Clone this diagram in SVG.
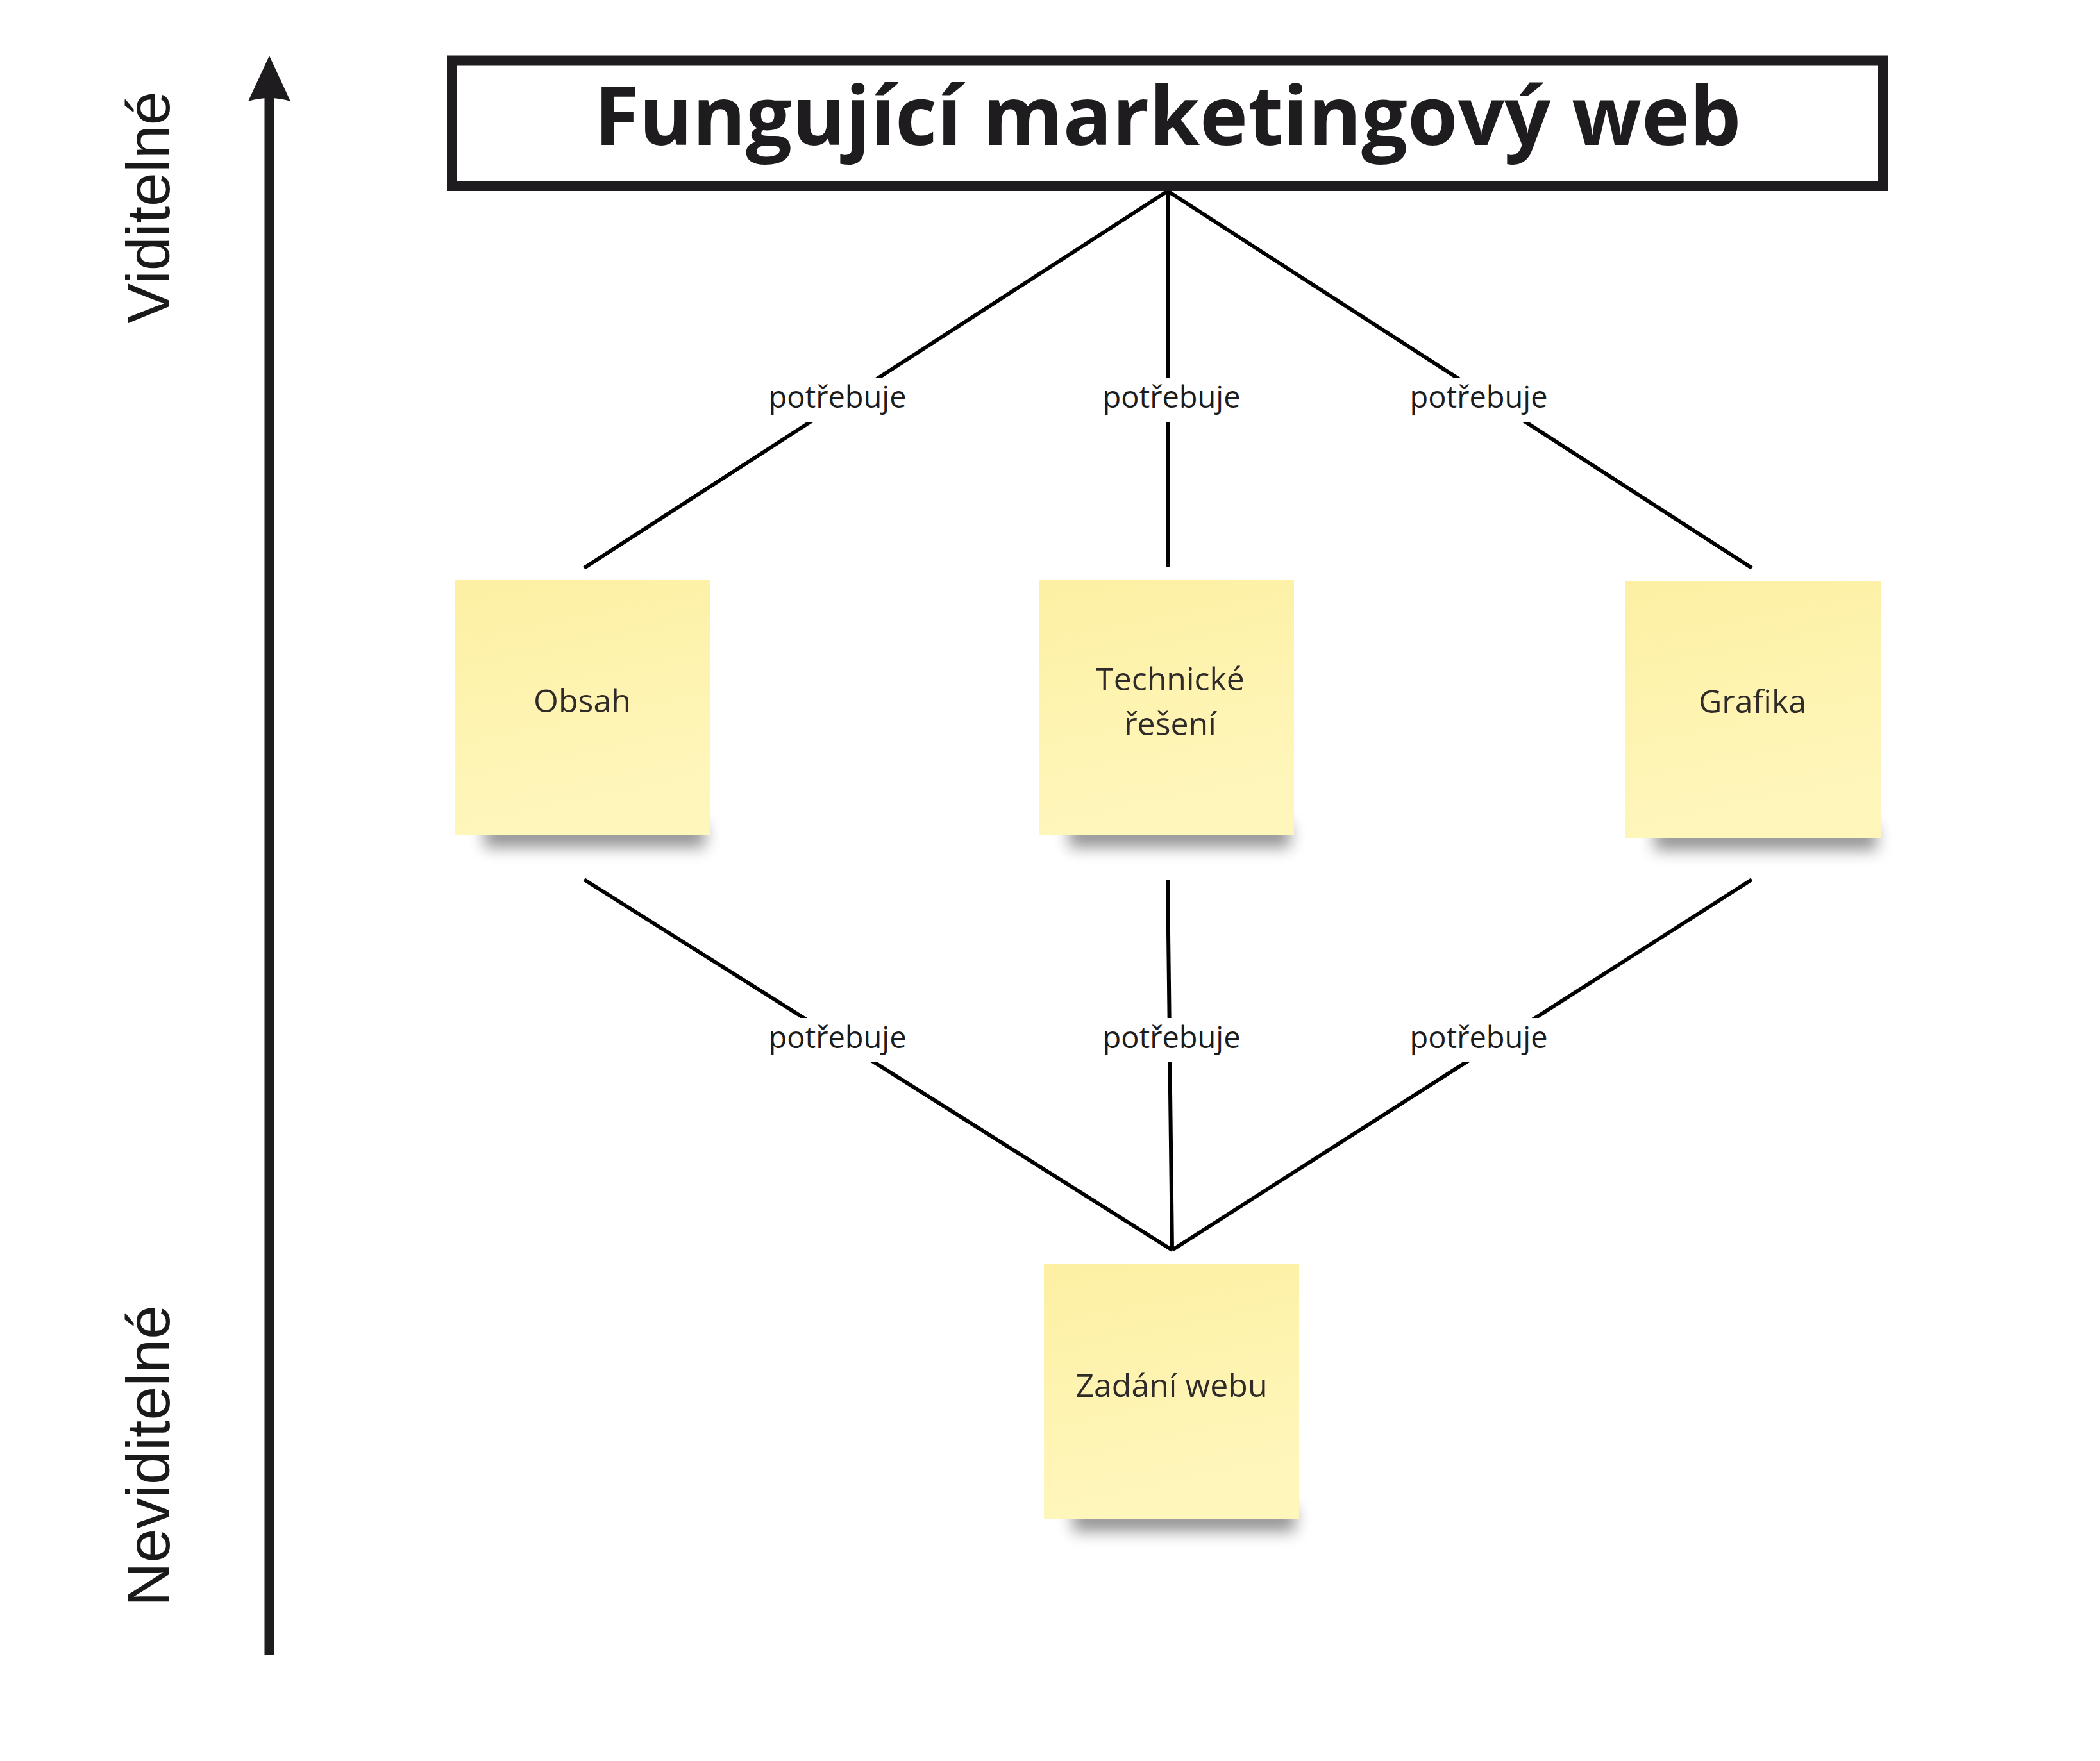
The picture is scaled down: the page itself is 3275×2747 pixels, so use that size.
<svg xmlns="http://www.w3.org/2000/svg" width="3275" height="2747" viewBox="0 0 3275 2747">
<style>
.title{font-family:"Open Sans","Noto Sans",sans-serif;font-weight:700;font-size:127px;fill:#1e1c1f;text-anchor:middle}
.axis{font-family:"Liberation Sans",Arial,sans-serif;font-size:95px;fill:#1a1a1a}
.note{fill:url(#noteGrad)}
.ntext{font-family:"Open Sans","Noto Sans",sans-serif;font-size:50px;fill:#2f2b28;text-anchor:middle}
.edge{stroke:#000;stroke-width:6;fill:none;stroke-linecap:butt}
.lbl{font-family:"Open Sans","Noto Sans",sans-serif;font-size:47px;fill:#1c1c1c;text-anchor:middle}
.lblbg{fill:#fff}
.shadow{fill:#000;opacity:0.42;filter:url(#blur)}
</style>
<defs>
<linearGradient id="noteGrad" x1="0" y1="0" x2="0.2" y2="1">
<stop offset="0" stop-color="#fdf0a3"/>
<stop offset="1" stop-color="#fff6bc"/>
</linearGradient>
<filter id="blur" x="-20%" y="-100%" width="140%" height="300%">
<feGaussianBlur stdDeviation="12"/>
</filter>
</defs>
<rect width="3275" height="2747" fill="#fff"/>

<g id="axis">
<line x1="420" y1="150" x2="420" y2="2582" stroke="#1e1c1f" stroke-width="15"/>
<path d="M420,87 L453,158 Q420,148 387,158 Z" fill="#1e1c1f"/>
<text class="axis" transform="translate(264,505) rotate(-90)">Viditelné</text>
<text class="axis" transform="translate(264,2506) rotate(-90)">Neviditelné</text>
</g>

<g id="connectors">
<line class="edge" x1="1821" y1="298" x2="911" y2="886"/>
<line class="edge" x1="1821" y1="298" x2="1821" y2="884"/>
<line class="edge" x1="1821" y1="298" x2="2732" y2="886"/>
<line class="edge" x1="911" y1="1372" x2="1828" y2="1950"/>
<line class="edge" x1="1821" y1="1372" x2="1828" y2="1950"/>
<line class="edge" x1="2732" y1="1372" x2="1828" y2="1950"/>
<rect class="lblbg" x="1190" y="590" width="232" height="68"/>
<rect class="lblbg" x="1712" y="590" width="232" height="68"/>
<rect class="lblbg" x="2190" y="590" width="232" height="68"/>
<rect class="lblbg" x="1190" y="1588" width="232" height="69"/>
<rect class="lblbg" x="1712" y="1588" width="232" height="69"/>
<rect class="lblbg" x="2190" y="1588" width="232" height="69"/>
<text class="lbl" x="1306" y="636">potřebuje</text>
<text class="lbl" x="1827" y="636">potřebuje</text>
<text class="lbl" x="2306" y="636">potřebuje</text>
<text class="lbl" x="1306" y="1635">potřebuje</text>
<text class="lbl" x="1827" y="1635">potřebuje</text>
<text class="lbl" x="2306" y="1635">potřebuje</text>
</g>

<g id="title">
<rect x="705" y="94.5" width="2232" height="195.5" fill="#fff" stroke="#1e1c1f" stroke-width="16"/>
<text class="title" x="1821" y="226">Fungující marketingový web</text>
</g>

<g id="obsah">
<rect class="shadow" x="755" y="1284" width="345" height="38"/>
<rect class="note" x="710" y="905" width="397" height="398"/>
<text class="ntext" x="908" y="1111">Obsah</text>
</g>

<g id="technicke">
<rect class="shadow" x="1667" y="1284" width="345" height="38"/>
<rect class="note" x="1621" y="904" width="397" height="399"/>
<text class="ntext" x="1825" y="1077">Technické</text>
<text class="ntext" x="1825" y="1147">řešení</text>
</g>

<g id="grafika">
<rect class="shadow" x="2580" y="1288" width="347" height="38"/>
<rect class="note" x="2534" y="906" width="399" height="401"/>
<text class="ntext" x="2733" y="1112">Grafika</text>
</g>

<g id="zadani">
<rect class="shadow" x="1673" y="2351" width="347" height="38"/>
<rect class="note" x="1628" y="1971" width="398" height="399"/>
<text class="ntext" x="1827" y="2179">Zadání webu</text>
</g>
</svg>
